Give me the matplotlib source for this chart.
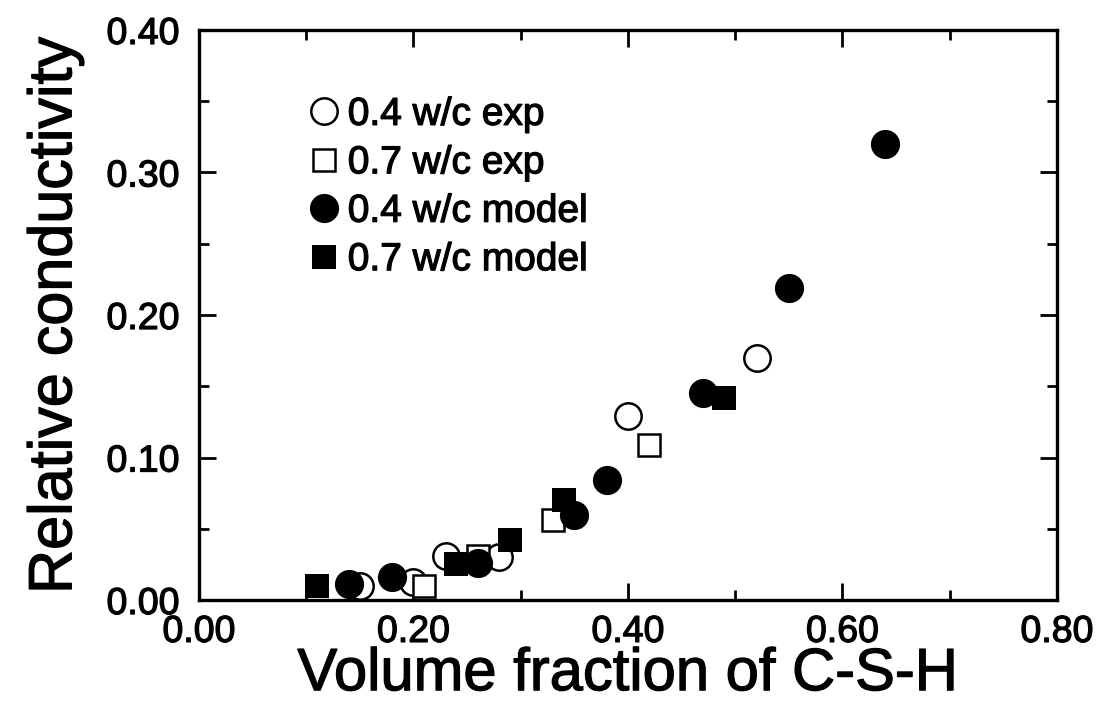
import numpy as np
import matplotlib
matplotlib.use('Agg')
import matplotlib.pyplot as plt
import matplotlib.patheffects as pe
from matplotlib.ticker import MultipleLocator, FormatStrFormatter

plt.rc('font', family=['Liberation Sans', 'DejaVu Sans'])

# 0.4 w/c experiment (open circles)
x_exp04 = [0.15, 0.20, 0.23, 0.28, 0.40, 0.52]
y_exp04 = [0.010, 0.013, 0.031, 0.030, 0.129, 0.170]

# 0.7 w/c experiment (open squares)
x_exp07 = [0.21, 0.26, 0.33, 0.42]
y_exp07 = [0.010, 0.031, 0.056, 0.109]

# 0.4 w/c model (filled circles)
x_mod04 = [0.14, 0.18, 0.26, 0.35, 0.38, 0.47, 0.55, 0.64]
y_mod04 = [0.011, 0.016, 0.026, 0.060, 0.084, 0.145, 0.219, 0.320]

# 0.7 w/c model (filled squares)
x_mod07 = [0.11, 0.24, 0.29, 0.34, 0.49]
y_mod07 = [0.010, 0.025, 0.042, 0.070, 0.142]

# slightly heavier text, like the scanned original
thick = [pe.withStroke(linewidth=0.9, foreground='black')]

fig = plt.figure(figsize=(11.01, 7.07), dpi=100)
ax = fig.add_axes([0.1807, 0.1513, 0.7793, 0.8063])

ax.plot(x_exp04, y_exp04, 'o', ms=19, mfc='white', mec='black', mew=1.8,
        label='0.4 w/c exp', zorder=3)
ax.plot(x_exp07, y_exp07, 's', ms=16, mfc='white', mec='black', mew=1.8,
        label='0.7 w/c exp', zorder=4)
ax.plot(x_mod04, y_mod04, 'o', ms=21, mfc='black', mec='black', mew=0,
        label='0.4 w/c model', zorder=5)
ax.plot(x_mod07, y_mod07, 's', ms=17, mfc='black', mec='black', mew=0,
        label='0.7 w/c model', zorder=6)

ax.set_xlim(0, 0.8)
ax.set_ylim(0, 0.4)
ax.xaxis.set_major_locator(MultipleLocator(0.2))
ax.xaxis.set_minor_locator(MultipleLocator(0.1))
ax.yaxis.set_major_locator(MultipleLocator(0.1))
ax.yaxis.set_minor_locator(MultipleLocator(0.05))
ax.xaxis.set_major_formatter(FormatStrFormatter('%.2f'))
ax.yaxis.set_major_formatter(FormatStrFormatter('%.2f'))

ax.tick_params(which='both', direction='in', top=True, right=True, width=2)
ax.tick_params(which='major', length=12, labelsize=27)
ax.tick_params(axis='y', which='major', pad=14)
ax.tick_params(axis='x', which='major', pad=10)
ax.tick_params(which='minor', length=7)
for s in ax.spines.values():
    s.set_linewidth(2.4)
for lab in ax.get_xticklabels() + ax.get_yticklabels():
    lab.set_path_effects(thick)

xl = ax.set_xlabel('Volume fraction of C-S-H', fontsize=43, labelpad=-2)
yl = ax.set_ylabel('Relative conductivity', fontsize=44, labelpad=16)
xl.set_path_effects(thick)
yl.set_path_effects(thick)

leg = ax.legend(loc='upper left', bbox_to_anchor=(0.11, 0.91), frameon=False,
                fontsize=28, handlelength=0.8, handletextpad=0.2,
                labelspacing=0.32, borderaxespad=0, markerscale=1.0)
for t in leg.get_texts():
    t.set_path_effects(thick)

plt.savefig('out.png', dpi=100)
plt.close()
